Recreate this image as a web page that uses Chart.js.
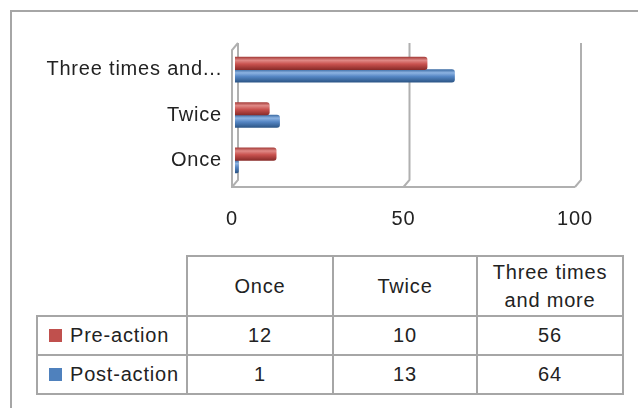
<!DOCTYPE html>
<html>
<head>
<meta charset="utf-8">
<script src="https://cdn.jsdelivr.net/npm/chart.js@4.4.0/dist/chart.umd.min.js"></script>
<style>
body { margin: 0; background: #fff; width: 638px; height: 408px; overflow: hidden; position: relative;
       font-family: "Liberation Sans", Arial, sans-serif; color: #222; }
#frame { position: absolute; left: 10px; top: 10px; width: 700px; height: 500px;
         border-left: 2px solid #a6a6a6; border-top: 2px solid #a6a6a6; }
#chart { position: absolute; left: 0; top: 0; }
table { position: absolute; left: 36px; top: 255px; border-collapse: collapse; font-size: 20px;
        letter-spacing: 0.8px; table-layout: fixed; }
td { border: 2px solid #a6a6a6; text-align: center; padding: 0; }
td.blank { border: none; }
td.leg { text-align: left; padding-left: 11px; }
.sw { display: inline-block; width: 13px; height: 13px; margin-right: 8px; vertical-align: 0px; }
</style>
</head>
<body>
<div id="frame"></div>
<canvas id="chart" width="638" height="250"></canvas>
<table id="dataTable"></table>
<script>
// chart data
const categories = ["Once", "Twice", "Three times and more"];
const preAction = [12, 10, 56];
const postAction = [1, 13, 64];
const seriesNames = ["Pre-action", "Post-action"];
const seriesColors = ["#C0504D", "#4F81BD"];
const xTicks = [0, 50, 100];

// shading for the "3D" bars: [edge, highlight, base, shadow]
const shades = {
    "#C0504D": ["#a8403d", "#e08a87", "#c9524f", "#8a2c2a"],
    "#4F81BD": ["#3f6ea6", "#8db3e2", "#5586c4", "#2c5687"]
};

// --- walls / floor drawn from the x scale ---
const wallPlugin = {
    id: "walls",
    // canvas resize resets the context, so set the spacing again each pass
    beforeUpdate(chart) { chart.ctx.letterSpacing = "0.8px"; },
    beforeDraw(chart) { chart.ctx.letterSpacing = "0.8px"; },
    beforeDatasetsDraw(chart) {
        const ctx = chart.ctx;
        const ca = chart.chartArea;
        const xs = chart.scales.x;
        const backTop = ca.top - 4, backBottom = ca.bottom - 3, front = ca.bottom + 4;
        ctx.save();
        ctx.strokeStyle = "#b0b0b0";
        ctx.lineWidth = 2;
        xTicks.forEach(v => {
            const px = xs.getPixelForValue(v);
            ctx.beginPath();
            ctx.moveTo(px + 3, backTop);
            ctx.lineTo(px + 3, backBottom);
            ctx.lineTo(px - 3, front);
            ctx.stroke();
        });
        // left wall + floor edge
        const x0 = xs.getPixelForValue(0);
        ctx.beginPath();
        ctx.moveTo(x0 + 3, backTop);
        ctx.lineTo(x0 - 3, backTop + 7);
        ctx.lineTo(x0 - 3, front);
        ctx.lineTo(xs.getPixelForValue(100) - 3, front);
        ctx.stroke();
        ctx.restore();

        // bar gradients
        chart.data.datasets.forEach((ds, i) => {
            const meta = chart.getDatasetMeta(i);
            const s = shades[ds.baseColor];
            meta.data.forEach(el => {
                const top = el.y - el.height / 2;
                const g = ctx.createLinearGradient(0, top, 0, top + el.height);
                g.addColorStop(0, s[0]);
                g.addColorStop(0.25, s[1]);
                g.addColorStop(0.55, s[2]);
                g.addColorStop(1, s[3]);
                el.options.backgroundColor = g;
            });
        });
    }
};

const rev = a => a.slice().reverse();
const tickFont = { family: "Liberation Sans", size: 20 };

new Chart(document.getElementById("chart"), {
    type: "bar",
    data: {
        labels: rev(categories),
        datasets: [
            { label: seriesNames[0], data: rev(preAction), baseColor: seriesColors[0],
              backgroundColor: () => seriesColors[0], barThickness: 12.5, borderRadius: 3 },
            { label: seriesNames[1], data: rev(postAction), baseColor: seriesColors[1],
              backgroundColor: () => seriesColors[1], barThickness: 12.5, borderRadius: 3 }
        ]
    },
    options: {
        indexAxis: "y",
        responsive: false,
        animation: false,
        devicePixelRatio: 1,
        layout: { padding: { left: 0, top: 47, right: 60, bottom: 0 } },
        plugins: { legend: { display: false }, tooltip: { enabled: false } },
        scales: {
            x: {
                min: 0, max: 100,
                afterBuildTicks: s => { s.ticks = xTicks.map(v => ({ value: v })); },
                afterFit: s => { s.height = 67; },
                grid: { display: false, drawTicks: false },
                border: { display: false },
                ticks: { padding: 24, labelOffset: -3, color: "#222", font: tickFont }
            },
            y: {
                afterFit: s => { s.width = 235; },
                grid: { display: false, drawTicks: false },
                border: { display: false },
                ticks: {
                    padding: 13, color: "#222", font: tickFont,
                    callback: function (v) {
                        const s = this.getLabelForValue(v);
                        return s.length > 18 ? s.slice(0, 15) + "..." : s;
                    }
                }
            }
        }
    },
    plugins: [wallPlugin]
});

// --- data table under the chart ---
const table = document.getElementById("dataTable");
const colW = [150, 146, 144, 146];
let html = "<colgroup>" + colW.map(w => `<col style="width:${w}px">`).join("") + "</colgroup>";
html += `<tr style="height:60px"><td class="blank"></td>` +
    categories.map(c => `<td style="line-height:28px">${c === "Three times and more" ? "Three times<br>and more" : c}</td>`).join("") + "</tr>";
[preAction, postAction].forEach((row, i) => {
    html += `<tr style="height:39px"><td class="leg"><span class="sw" style="background:${seriesColors[i]}"></span>${seriesNames[i]}</td>` +
        row.map(v => `<td>${v}</td>`).join("") + "</tr>";
});
table.innerHTML = html;
</script>
</body>
</html>
